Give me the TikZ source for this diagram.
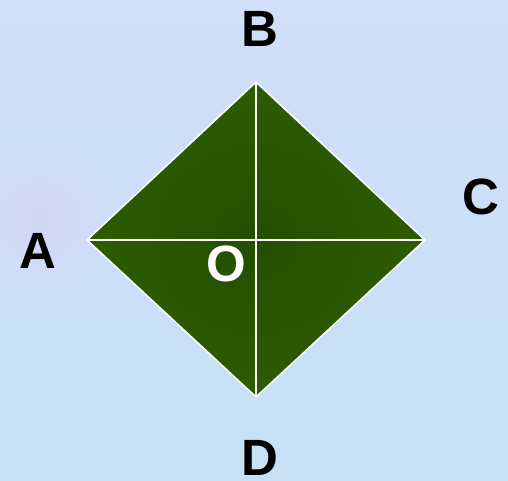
\documentclass[tikz,border=0pt]{standalone}
\usepackage{fontspec}
\setmainfont{Liberation Sans}
\definecolor{bgtop}{RGB}{208,222,248}
\definecolor{bgbot}{RGB}{198,224,246}
\definecolor{lav}{RGB}{214,210,246}
\definecolor{gin}{RGB}{36,78,0}
\definecolor{gout}{RGB}{46,92,0}
\begin{document}
\begin{tikzpicture}[x=1pt,y=1pt,
  lbl/.style={font=\fontsize{51}{51}\selectfont\bfseries, text=black, inner sep=0pt},
  edge/.style={draw=white, line width=1.6pt}]
\useasboundingbox (0,0) rectangle (508,480);
\shade[top color=bgtop, bottom color=bgbot] (0,0) rectangle (508,480);
\shade[inner color=lav, outer color=bgtop, opacity=0.6] (40,260) circle (70);
\coordinate (A) at (87,240);
\coordinate (B) at (256,398);
\coordinate (C) at (425,240);
\coordinate (D) at (256,83);
\coordinate (O) at (256,240);
\shade[inner color=gin, outer color=gout] (A) -- (B) -- (C) -- (D) -- cycle;
\draw[edge, line join=miter] (A) -- (B) -- (C) -- (D) -- cycle;
\draw[edge] (A) -- (C);
\draw[edge] (B) -- (D);
\node[lbl] (lA) at (38,229) {A};
\node[lbl] (lB) at (260,451) {B};
\node[lbl] (lC) at (481,283) {C};
\node[lbl] (lD) at (260,22) {D};
\node[lbl, text=white] (lO) at (226,216) {O};
\end{tikzpicture}
\end{document}
